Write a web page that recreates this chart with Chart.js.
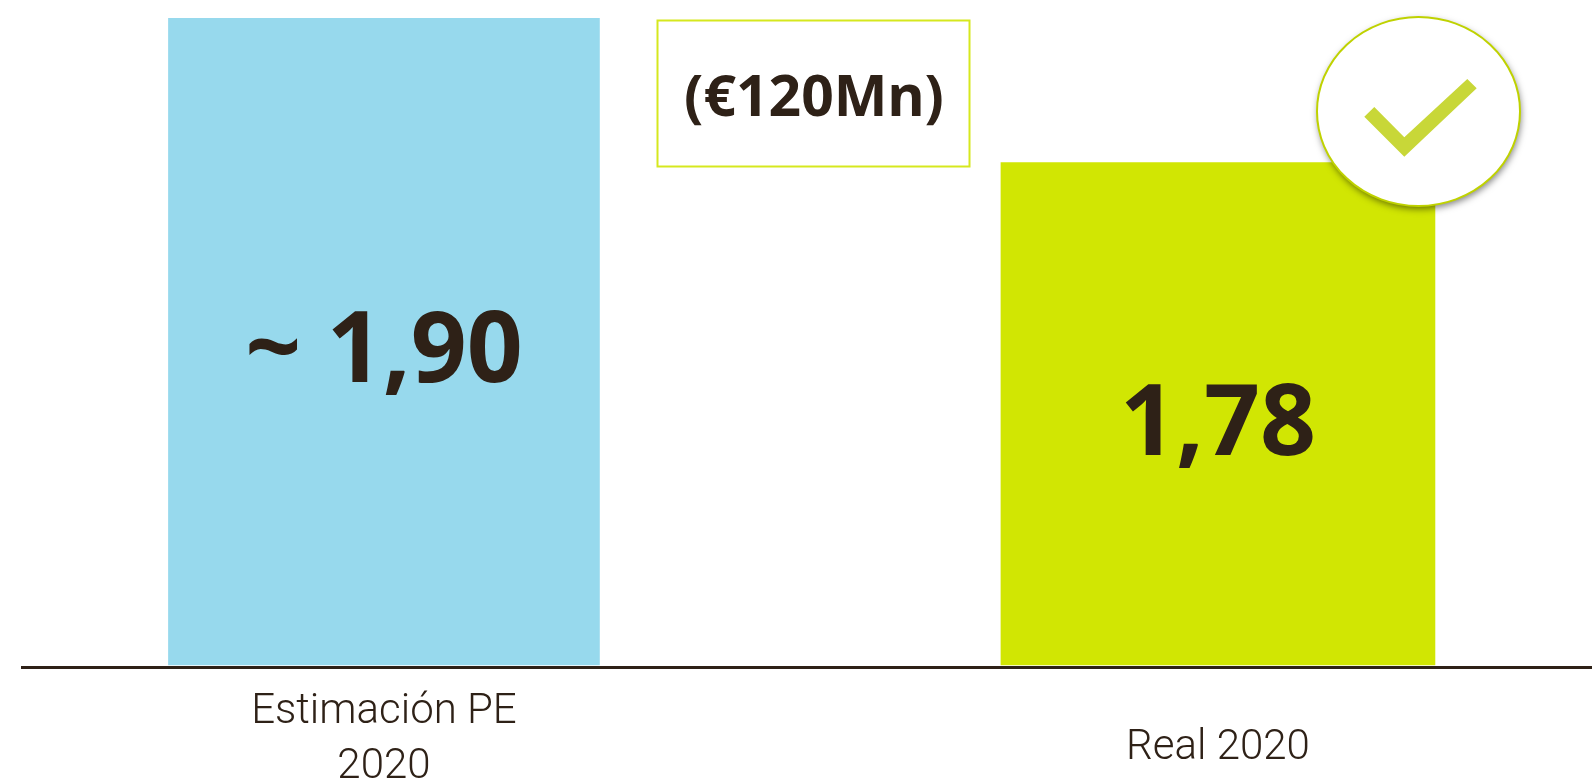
<!DOCTYPE html>
<html>
<head>
<meta charset="utf-8">
<style>html,body{margin:0;padding:0;background:#fff}canvas{display:block}</style>
<script src="https://cdn.jsdelivr.net/npm/chart.js@4"></script>
</head>
<body>
<canvas id="c" width="1592" height="782"></canvas>
<script>
const categories = [["Estimación PE", "2020"], ["", "Real 2020"]];
const values = [1.90, 1.78];
const valueLabels = ["~ 1,90", "1,78"];
const calloutText = "(€120Mn)";
const barColors = ["#97d9ed", "#d1e603"];
const barWidths = [431, 434];
const ink = "#2e2117";
const boldFont = '"Noto Sans"';
const lightFont = 'Roboto';

const overlay = {
  id: 'overlay',
  afterDatasetsDraw(chart) {
    const {ctx, scales:{x, y}} = chart;
    ctx.save();
    ctx.fillStyle = ink;
    ctx.textAlign = 'center';
    ctx.textBaseline = 'middle';
    ctx.font = '700 98px ' + boldFont;
    values.forEach((v, i) => {
      const mid = (y.getPixelForValue(v) + y.getPixelForValue(baseValue)) / 2;
      ctx.fillText(valueLabels[i], x.getPixelForValue(i), mid + 13);
    });
    // callout
    ctx.strokeStyle = '#d6e81e';
    ctx.lineWidth = 2;
    ctx.strokeRect(657.5, 20.5, 312, 146);
    ctx.font = '700 57px ' + boldFont;
    ctx.fillStyle = ink;
    ctx.fillText(calloutText, 814, 100);
    // badge
    ctx.save();
    ctx.shadowColor = 'rgba(0,0,0,0.5)';
    ctx.shadowBlur = 7;
    ctx.shadowOffsetX = 1;
    ctx.shadowOffsetY = 3;
    ctx.beginPath();
    ctx.ellipse(1418.5, 111.5, 101.5, 94.5, 0, 0, Math.PI * 2);
    ctx.fillStyle = '#fff';
    ctx.fill();
    ctx.restore();
    ctx.beginPath();
    ctx.ellipse(1418.5, 111.5, 101.5, 94.5, 0, 0, Math.PI * 2);
    ctx.strokeStyle = '#bfd200';
    ctx.lineWidth = 2;
    ctx.stroke();
    ctx.beginPath();
    [[1374.3,107],[1364.3,116.7],[1404.3,156.7],[1476.7,88.3],[1467.3,79],[1404.3,137.3]]
      .forEach((p, i) => i ? ctx.lineTo(p[0], p[1]) : ctx.moveTo(p[0], p[1]));
    ctx.closePath();
    ctx.fillStyle = '#c8d738';
    ctx.fill();
    ctx.restore();
  }
};

const baseValue = 1.3627;
new Chart(document.getElementById('c'), {
  type: 'bar',
  data: {
    datasets: values.map((v, i) => ({
      data: [{x: i, y: v}],
      backgroundColor: barColors[i],
      barThickness: barWidths[i],
      base: baseValue,
      grouped: false
    }))
  },
  options: {
    responsive: false,
    animation: false,
    events: [],
    layout: {padding: {left: 22, right: 0, top: 18, bottom: 0}},
    plugins: {legend: {display: false}, tooltip: {enabled: false}, title: {display: false}},
    scales: {
      x: {
        type: 'linear',
        offset: false,
        min: -0.434,
        max: 1.4485,
        grid: {display: false, drawTicks: false, offset: false},
        border: {display: true, color: ink, width: 3},
        afterBuildTicks(s) { s.ticks = categories.map((_, i) => ({value: i})); },
        afterFit(s) { s.height = 115; },
        ticks: {
          autoSkip: false,
          maxRotation: 0,
          padding: 18,
          color: ink,
          font: c => ({family: lightFont, weight: '300', size: 42, lineHeight: c.index === 1 ? 1.0 : 1.31}),
          callback: v => categories[v]
        }
      },
      y: {display: false, min: 1.361, max: 1.90}
    }
  },
  plugins: [overlay]
});
</script>
</body>
</html>
